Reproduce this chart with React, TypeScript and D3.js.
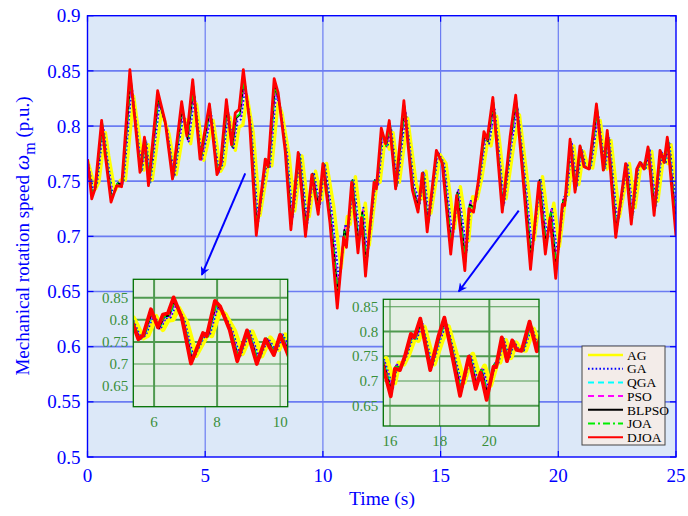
import React from 'react';
import * as d3 from 'd3';

// ---------- data ----------
const time = [0,0.18,0.32,0.6,0.74,1.0,1.24,1.45,1.8,2.02,2.23,2.42,2.59,2.98,3.3,3.61,4.0,4.22,4.47,4.78,5.18,5.5,5.65,5.9,6.12,6.28,6.44,6.62,6.88,7.17,7.4,7.55,7.67,7.93,8.1,8.4,8.64,8.95,9.26,9.53,9.8,10.0,10.3,10.61,10.88,11.0,11.22,11.49,11.64,11.81,12.17,12.27,12.48,12.66,12.82,13.09,13.44,13.8,14.04,14.22,14.43,14.82,15.07,15.43,15.68,16.03,16.2,16.4,16.6,16.84,16.98,17.22,17.62,17.95,18.19,18.47,18.82,19.17,19.45,19.65,19.89,20.17,20.27,20.5,20.71,20.92,21.09,21.3,21.62,21.91,22.08,22.44,22.86,23.1,23.33,23.47,23.64,23.81,24.07,24.32,24.49,24.63,25.0];

const djoa = [0.770,0.734,0.743,0.805,0.776,0.731,0.746,0.745,0.851,0.804,0.758,0.790,0.746,0.832,0.804,0.752,0.822,0.791,0.842,0.770,0.820,0.756,0.765,0.824,0.783,0.812,0.815,0.851,0.805,0.701,0.743,0.770,0.763,0.843,0.830,0.777,0.706,0.776,0.700,0.756,0.720,0.766,0.712,0.635,0.699,0.690,0.749,0.685,0.717,0.664,0.749,0.743,0.798,0.784,0.805,0.743,0.823,0.742,0.722,0.757,0.704,0.778,0.766,0.684,0.737,0.669,0.725,0.722,0.750,0.795,0.788,0.826,0.722,0.790,0.828,0.760,0.670,0.749,0.684,0.717,0.662,0.729,0.728,0.788,0.740,0.782,0.763,0.761,0.820,0.760,0.796,0.699,0.766,0.711,0.761,0.767,0.761,0.781,0.719,0.778,0.767,0.790,0.700];

const joa = [0.770,0.737,0.745,0.802,0.775,0.734,0.748,0.747,0.844,0.801,0.759,0.788,0.748,0.827,0.801,0.753,0.817,0.789,0.836,0.770,0.816,0.757,0.765,0.819,0.782,0.808,0.811,0.844,0.802,0.706,0.745,0.770,0.763,0.837,0.825,0.776,0.711,0.775,0.705,0.757,0.724,0.766,0.716,0.645,0.704,0.696,0.750,0.691,0.721,0.672,0.750,0.745,0.795,0.782,0.802,0.745,0.818,0.744,0.725,0.758,0.709,0.777,0.766,0.691,0.739,0.677,0.728,0.725,0.751,0.793,0.786,0.821,0.725,0.788,0.823,0.760,0.678,0.750,0.691,0.721,0.670,0.732,0.731,0.786,0.742,0.781,0.763,0.761,0.816,0.760,0.794,0.704,0.766,0.715,0.761,0.767,0.761,0.780,0.723,0.777,0.767,0.788,0.705];

const blpso = [0.770,0.737,0.745,0.801,0.775,0.734,0.748,0.747,0.842,0.800,0.759,0.788,0.748,0.825,0.800,0.753,0.816,0.788,0.834,0.770,0.815,0.757,0.765,0.818,0.781,0.807,0.810,0.842,0.801,0.707,0.745,0.770,0.763,0.835,0.824,0.776,0.712,0.775,0.707,0.757,0.725,0.766,0.717,0.648,0.706,0.698,0.751,0.693,0.722,0.674,0.751,0.745,0.795,0.782,0.801,0.745,0.817,0.744,0.726,0.758,0.710,0.777,0.766,0.692,0.740,0.679,0.729,0.726,0.752,0.792,0.786,0.820,0.726,0.788,0.822,0.761,0.680,0.751,0.692,0.722,0.672,0.733,0.732,0.786,0.743,0.780,0.763,0.761,0.815,0.761,0.793,0.706,0.766,0.716,0.761,0.767,0.761,0.779,0.724,0.777,0.767,0.788,0.707];

const qga = [0.769,0.738,0.746,0.800,0.775,0.735,0.748,0.748,0.840,0.799,0.759,0.787,0.748,0.823,0.799,0.754,0.815,0.788,0.832,0.769,0.813,0.757,0.765,0.816,0.781,0.806,0.809,0.840,0.800,0.709,0.746,0.769,0.763,0.833,0.822,0.775,0.714,0.775,0.708,0.757,0.726,0.766,0.719,0.652,0.708,0.700,0.751,0.695,0.723,0.677,0.751,0.746,0.794,0.782,0.800,0.746,0.815,0.745,0.728,0.758,0.712,0.776,0.766,0.695,0.741,0.682,0.730,0.728,0.752,0.791,0.785,0.818,0.728,0.787,0.820,0.761,0.682,0.751,0.695,0.723,0.675,0.734,0.733,0.785,0.743,0.780,0.763,0.762,0.813,0.761,0.792,0.708,0.766,0.718,0.762,0.767,0.762,0.779,0.725,0.776,0.767,0.787,0.708];

const pso = [0.769,0.738,0.746,0.799,0.774,0.736,0.749,0.748,0.839,0.799,0.759,0.787,0.749,0.823,0.799,0.754,0.814,0.787,0.831,0.769,0.812,0.757,0.765,0.816,0.780,0.805,0.808,0.839,0.799,0.710,0.746,0.769,0.763,0.832,0.821,0.775,0.714,0.774,0.709,0.757,0.726,0.766,0.719,0.653,0.708,0.701,0.751,0.696,0.724,0.678,0.751,0.746,0.793,0.781,0.799,0.746,0.815,0.745,0.728,0.758,0.713,0.776,0.766,0.695,0.741,0.682,0.731,0.728,0.752,0.791,0.785,0.817,0.728,0.787,0.819,0.761,0.683,0.751,0.695,0.724,0.676,0.734,0.733,0.785,0.744,0.780,0.763,0.762,0.812,0.761,0.792,0.708,0.766,0.719,0.762,0.767,0.762,0.779,0.725,0.776,0.767,0.787,0.709];

const ga = [0.769,0.740,0.747,0.798,0.774,0.737,0.749,0.749,0.836,0.797,0.759,0.786,0.749,0.820,0.797,0.754,0.812,0.786,0.828,0.769,0.810,0.758,0.765,0.813,0.780,0.804,0.806,0.836,0.798,0.713,0.747,0.769,0.763,0.829,0.818,0.775,0.717,0.774,0.712,0.758,0.728,0.766,0.722,0.658,0.711,0.704,0.752,0.699,0.726,0.682,0.752,0.747,0.792,0.781,0.798,0.747,0.813,0.746,0.730,0.758,0.715,0.776,0.766,0.699,0.742,0.686,0.732,0.730,0.753,0.790,0.784,0.815,0.730,0.786,0.817,0.761,0.687,0.752,0.699,0.726,0.681,0.736,0.735,0.784,0.745,0.779,0.763,0.762,0.810,0.761,0.790,0.711,0.766,0.721,0.762,0.767,0.762,0.778,0.727,0.776,0.767,0.786,0.712];

const ag = [0.769,0.743,0.749,0.794,0.773,0.741,0.751,0.751,0.827,0.793,0.760,0.783,0.751,0.813,0.793,0.756,0.806,0.784,0.820,0.769,0.805,0.759,0.765,0.808,0.778,0.799,0.801,0.827,0.794,0.719,0.749,0.769,0.764,0.821,0.812,0.774,0.723,0.773,0.718,0.759,0.733,0.766,0.727,0.671,0.718,0.711,0.754,0.707,0.730,0.692,0.754,0.749,0.789,0.779,0.794,0.749,0.807,0.748,0.734,0.759,0.721,0.774,0.766,0.707,0.745,0.696,0.736,0.734,0.754,0.787,0.782,0.809,0.734,0.783,0.810,0.761,0.697,0.754,0.707,0.730,0.691,0.739,0.738,0.782,0.747,0.777,0.764,0.762,0.805,0.761,0.787,0.718,0.766,0.726,0.762,0.766,0.762,0.777,0.732,0.774,0.766,0.783,0.718];

const seriesNames = ['AG', 'GA', 'QGA', 'PSO', 'BLPSO', 'JOA', 'DJOA'];
const seriesValues = [ag, ga, qga, pso, blpso, joa, djoa];
// response delay of each method relative to DJOA (s)
const seriesDelay = [0.16, 0.08, 0.05, 0.05, 0.03, 0.03, 0];

const xTicks = [0, 5, 10, 15, 20, 25];
const yTicks = [0.5, 0.55, 0.6, 0.65, 0.7, 0.75, 0.8, 0.85, 0.9];
const inset1XTicks = [6, 8, 10];
const inset2XTicks = [16, 18, 20];
const insetYTicks = [0.65, 0.7, 0.75, 0.8, 0.85];

// ---------- styles ----------
const seriesStyle = [
  { color: '#ffff00', width: 3.4, dash: '', inset: 5 },
  { color: '#0000ff', width: 2, dash: '1.6,2.2', inset: 2.6 },
  { color: '#00ffff', width: 1.6, dash: '6,4', inset: 2.2 },
  { color: '#ff00ff', width: 1.6, dash: '6,4', inset: 2.2 },
  { color: '#000000', width: 1.6, dash: '', inset: 2.2 },
  { color: '#00ee00', width: 1.9, dash: '7,3,2,3', inset: 2.6 },
  { color: '#ff0000', width: 2.8, dash: '', inset: 3.8 },
];

const FONT = "'Liberation Serif', 'Times New Roman', Times, serif";
const BLUE = '#0000ff';
const GREEN_TXT = '#3a8f3a';

const W = 688, H = 516;
const M = { left: 87.5, right: 676, top: 15.7, bottom: 457 };

function seriesPoints(k: number): [number, number][] {
  const vals = seriesValues[k];
  return time.map((t, i) => [i === 0 ? 0 : t + seriesDelay[k], vals[i]] as [number, number]);
}

function Inset(props: {
  id: string; x0: number; x1: number; y0: number; y1: number;
  xDom: [number, number]; yDom: [number, number]; xTicks: number[];
  thickX: number[]; thickY: number[];
}) {
  const { id, x0, x1, y0, y1, xDom, yDom } = props;
  const x = d3.scaleLinear().domain(xDom).range([x0, x1]);
  const y = d3.scaleLinear().domain(yDom).range([y1, y0]);
  const line = d3.line<[number, number]>().x(d => x(d[0])).y(d => y(d[1]));
  return (
    <g>
      <defs>
        <clipPath id={id}><rect x={x0} y={y0} width={x1 - x0} height={y1 - y0} /></clipPath>
      </defs>
      <rect x={x0} y={y0} width={x1 - x0} height={y1 - y0} fill="#e4efe4" />
      {props.xTicks.map(t => (
        <line key={'gx' + t} x1={x(t)} x2={x(t)} y1={y0} y2={y1} stroke="#4f9a4f"
          strokeWidth={props.thickX.includes(t) ? 2 : 1.1} />
      ))}
      {insetYTicks.map(t => (
        <line key={'gy' + t} x1={x0} x2={x1} y1={y(t)} y2={y(t)} stroke="#4f9a4f"
          strokeWidth={props.thickY.includes(t) ? 2 : 1.1} />
      ))}
      <g clipPath={`url(#${id})`}>
        {seriesValues.map((_, k) => (
          <path key={k} d={line(seriesPoints(k)) || ''} fill="none" stroke={seriesStyle[k].color}
            strokeWidth={seriesStyle[k].inset}
            strokeDasharray={seriesStyle[k].dash || undefined} strokeLinejoin="round" />
        ))}
      </g>
      <rect x={x0} y={y0} width={x1 - x0} height={y1 - y0} fill="none" stroke="#007000" strokeWidth={1.3} />
      {insetYTicks.map(t => (
        <text key={'ly' + t} x={x0 - 5} y={y(t)} dy="0.35em" textAnchor="end" fontSize={15}
          fontFamily={FONT} fill={GREEN_TXT}>{String(t)}</text>
      ))}
      {props.xTicks.map(t => (
        <text key={'lx' + t} x={x(t)} y={y1 + 20} textAnchor="middle" fontSize={15}
          fontFamily={FONT} fill={GREEN_TXT}>{String(t)}</text>
      ))}
    </g>
  );
}

export default function App() {
  const x = d3.scaleLinear().domain([0, 25]).range([M.left, M.right]);
  const y = d3.scaleLinear().domain([0.5, 0.9]).range([M.bottom, M.top]);
  const line = d3.line<[number, number]>().x(d => x(d[0])).y(d => y(d[1]));

  const arrows = [
    { from: [6.7, 0.757], to: [4.855, 0.665] },
    { from: [18.32, 0.7233], to: [15.77, 0.65] },
  ];

  const legX = 582, legY = 346, legW = 83, legH = 99;

  return (
    <div style={{ position: 'absolute', left: 0, top: 0 }}>
      <svg width={W} height={H} viewBox={`0 0 ${W} ${H}`} style={{ display: 'block', background: '#ffffff' }}>
        <defs>
          <clipPath id="mainClip"><rect x={M.left} y={M.top} width={M.right - M.left} height={M.bottom - M.top} /></clipPath>
          <marker id="arrowHead" viewBox="0 0 10 10" refX="9" refY="5" markerWidth="10" markerHeight="9"
            markerUnits="userSpaceOnUse" orient="auto">
            <path d="M0,0 L10,5 L0,10 L3,5 Z" fill={BLUE} />
          </marker>
        </defs>
        <rect x={M.left} y={M.top} width={M.right - M.left} height={M.bottom - M.top} fill="#dce8f8" />
        {/* grid */}
        {xTicks.slice(1, -1).map(t => (
          <line key={'gx' + t} x1={x(t)} x2={x(t)} y1={M.top} y2={M.bottom} stroke="#6b7cf2" strokeWidth={1.2} />
        ))}
        {yTicks.slice(1, -1).map(t => (
          <line key={'gy' + t} x1={M.left} x2={M.right} y1={y(t)} y2={y(t)} stroke="#6b7cf2" strokeWidth={1.7} />
        ))}
        {/* series */}
        <g clipPath="url(#mainClip)">
          {seriesValues.map((_, k) => (
            <path key={k} d={line(seriesPoints(k)) || ''} fill="none" stroke={seriesStyle[k].color}
              strokeWidth={seriesStyle[k].width} strokeDasharray={seriesStyle[k].dash || undefined}
              strokeLinejoin="round" />
          ))}
        </g>
        {/* box + ticks */}
        <rect x={M.left} y={M.top} width={M.right - M.left} height={M.bottom - M.top} fill="none" stroke={BLUE} strokeWidth={1.4} />
        {yTicks.map(t => (
          <g key={'ty' + t}>
            <line x1={M.left} x2={M.left + 6} y1={y(t)} y2={y(t)} stroke={BLUE} strokeWidth={1.2} />
            <line x1={M.right} x2={M.right - 6} y1={y(t)} y2={y(t)} stroke={BLUE} strokeWidth={1.2} />
            <text x={M.left - 7} y={y(t)} dy="0.35em" textAnchor="end" fontSize={19} fontFamily={FONT} fill={BLUE}>{String(t)}</text>
          </g>
        ))}
        {xTicks.map(t => (
          <g key={'tx' + t}>
            <line x1={x(t)} x2={x(t)} y1={M.bottom} y2={M.bottom - 6} stroke={BLUE} strokeWidth={1.2} />
            <line x1={x(t)} x2={x(t)} y1={M.top} y2={M.top + 6} stroke={BLUE} strokeWidth={1.2} />
            <text x={x(t)} y={482} textAnchor="middle" fontSize={19} fontFamily={FONT} fill={BLUE}>{String(t)}</text>
          </g>
        ))}
        <text x={382} y={505} textAnchor="middle" fontSize={19.5} fontFamily={FONT} fill={BLUE}>Time (s)</text>
        <text transform="translate(29,236) rotate(-90)" textAnchor="middle" fontSize={19} fontFamily={FONT} fill={BLUE}>
          Mechanical rotation speed <tspan fontStyle="italic" fontSize={22}>ω</tspan>
          <tspan fontSize={16} dy={6}>m</tspan>
          <tspan dy={-6}> (p.u.)</tspan>
        </text>

        {/* arrows */}
        {arrows.map((a, i) => (
          <line key={'ar' + i} x1={x(a.from[0])} y1={y(a.from[1])} x2={x(a.to[0])} y2={y(a.to[1])}
            stroke={BLUE} strokeWidth={2} markerEnd="url(#arrowHead)" />
        ))}

        {/* insets */}
        <Inset id="inset1" x0={133.3} x1={287.7} y0={279.3} y1={406.7}
          xDom={[5.34, 10.24]} yDom={[0.603, 0.892]} xTicks={inset1XTicks}
          thickX={[6, 8]} thickY={[0.75, 0.8, 0.85]} />
        <Inset id="inset2" x0={383.3} x1={539} y0={299.3} y1={426}
          xDom={[15.73, 22.0]} yDom={[0.609, 0.865]} xTicks={inset2XTicks}
          thickX={[20]} thickY={[0.65, 0.75, 0.8]} />

        {/* legend */}
        <rect x={legX} y={legY} width={legW} height={legH} fill="#f3ece9" stroke="#444" strokeWidth={1} />
        {seriesNames.map((name, k) => {
          const cy = legY + 9 + k * 13.7;
          return (
            <g key={name}>
              <line x1={legX + 6} x2={legX + 41} y1={cy} y2={cy} stroke={seriesStyle[k].color}
                strokeWidth={k === 0 ? 2.5 : 2} strokeDasharray={seriesStyle[k].dash || undefined} />
              <text x={legX + 45} y={cy} dy="0.35em" fontSize={13.5} fontFamily={FONT} fill="#000">{name}</text>
            </g>
          );
        })}
      </svg>
    </div>
  );
}
